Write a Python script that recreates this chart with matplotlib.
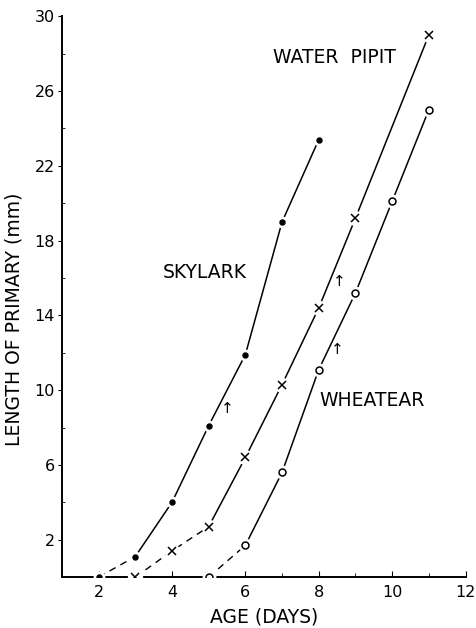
import matplotlib

matplotlib.use("Agg")
import matplotlib.pyplot as plt
from matplotlib.ticker import MultipleLocator

# values (age in days, primary length in mm)
skylark_days = [2, 3, 4, 5, 6, 7, 8]
skylark_len = [0.0, 1.1, 4.0, 8.1, 11.9, 19.0, 23.4]
pipit_days = [3, 4, 5, 6, 7, 8, 9, 11]
pipit_len = [0.0, 1.4, 2.7, 6.4, 10.3, 14.4, 19.2, 29.0]
wheatear_days = [5, 6, 7, 8, 9, 10, 11]
wheatear_len = [0.0, 1.7, 5.6, 11.1, 15.2, 20.1, 25.0]

# number of leading segments drawn dashed for each species
skylark_dashed = 1
pipit_dashed = 2
wheatear_dashed = 1

arrow_pos = [(5.5, 9.0), (8.55, 15.8), (8.5, 12.2)]

fig = plt.figure(figsize=(4.76, 6.28), dpi=100)
ax = fig.add_axes([0.130, 0.081, 0.848, 0.893])


def draw(days, vals, n_dash, marker, ms, face):
    ax.plot(days[:n_dash + 1], vals[:n_dash + 1], color="black", lw=1.0,
            ls=(0, (5, 4)), zorder=2)
    ax.plot(days[n_dash:], vals[n_dash:], color="black", lw=1.1, zorder=2)
    # little white gap round each point, as in the hand-drawn original
    ax.plot(days, vals, ls="none", marker="o", ms=ms + 4, mfc="white",
            mec="white", zorder=3)
    ax.plot(days, vals, ls="none", marker=marker, ms=ms, mfc=face,
            mec="black", mew=1.1, color="black", zorder=4)


draw(skylark_days, skylark_len, skylark_dashed, "o", 3.5, "black")
draw(pipit_days, pipit_len, pipit_dashed, "x", 6, "black")
draw(wheatear_days, wheatear_len, wheatear_dashed, "o", 5, "white")

for x, y in arrow_pos:
    ax.text(x, y, "\u2191", ha="center", va="center", fontsize=11)

ax.text(4.9, 16.3, "SKYLARK", ha="center", va="center", fontsize=13.5)
ax.text(8.43, 27.8, "WATER  PIPIT", ha="center", va="center", fontsize=13.5)
ax.text(9.46, 9.45, "WHEATEAR", ha="center", va="center", fontsize=13.5)

ax.set_xlim(1, 12)
ax.set_ylim(0, 30)
ax.set_xticks([2, 4, 6, 8, 10, 12])
ax.xaxis.set_minor_locator(MultipleLocator(1))
ax.set_yticks([2, 6, 10, 14, 18, 22, 26, 30])
ax.yaxis.set_minor_locator(MultipleLocator(2))
ax.tick_params(axis="x", which="major", direction="in", length=4, labelsize=11.5, pad=6)
ax.tick_params(axis="x", which="minor", direction="in", length=3)
ax.tick_params(axis="y", which="major", direction="out", length=3, labelsize=11.5, pad=2)
ax.tick_params(axis="y", which="minor", direction="in", length=2)

for side in ("top", "right"):
    ax.spines[side].set_visible(False)
for side in ("left", "bottom"):
    ax.spines[side].set_linewidth(1.4)

ax.set_xlabel("AGE (DAYS)", fontsize=13.5, labelpad=5)
ax.set_ylabel("LENGTH OF PRIMARY (mm)", fontsize=13.5)
ax.yaxis.set_label_coords(-0.095, 0.46)

fig.savefig("out.png", dpi=100)
